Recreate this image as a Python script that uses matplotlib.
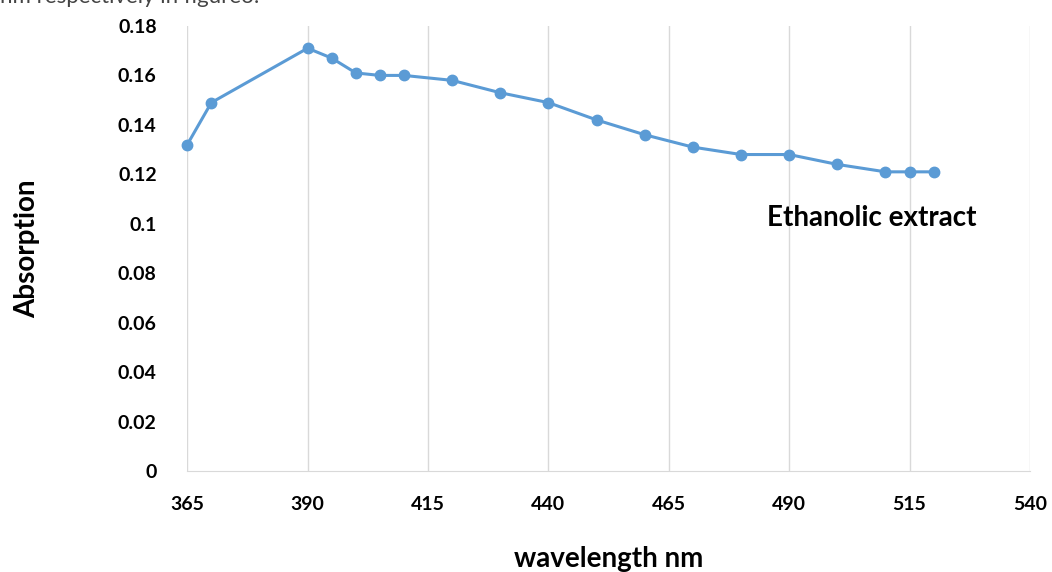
import matplotlib.pyplot as plt

# wavelength (nm) and absorption
wavelength = [365, 370, 390, 395, 400, 405, 410, 420, 430, 440, 450, 460, 470, 480, 490, 500, 510, 515, 520]
absorption = [0.132, 0.149, 0.171, 0.167, 0.161, 0.160, 0.160, 0.158, 0.153, 0.149, 0.142,
              0.136, 0.131, 0.128, 0.128, 0.124, 0.121, 0.121, 0.121]

x_ticks = [365, 390, 415, 440, 465, 490, 515, 540]
y_ticks = [0, 0.02, 0.04, 0.06, 0.08, 0.1, 0.12, 0.14, 0.16, 0.18]
y_labels = ["0", "0.02", "0.04", "0.06", "0.08", "0.1", "0.12", "0.14", "0.16", "0.18"]

plt.rcParams['font.family'] = ['Lato', 'DejaVu Sans']

fig = plt.figure(figsize=(10.52, 5.72), dpi=100)
ax = fig.add_axes([0.178, 0.1766, 0.801, 0.778])

ax.plot(wavelength, absorption, color="#5b9bd5", lw=2.2, marker="o", ms=7.5,
        zorder=3, clip_on=False)

ax.set_xlim(365, 540)
ax.set_ylim(0, 0.18)
ax.set_xticks(x_ticks)
ax.set_yticks(y_ticks)
ax.set_yticklabels(y_labels)
ax.tick_params(length=0, labelsize=14)
for lab in ax.get_xticklabels() + ax.get_yticklabels():
    lab.set_fontweight("bold")
ax.tick_params(axis="x", pad=18)
ax.tick_params(axis="y", pad=22)

ax.grid(axis="x", color="#d9d9d9", lw=1)
for s in ["left", "top", "right"]:
    ax.spines[s].set_visible(False)
ax.spines["bottom"].set_color("#d9d9d9")

ax.set_xlabel("wavelength nm", fontsize=20, fontweight="bold", labelpad=24)
ax.set_ylabel("Absorption", fontsize=20, fontweight="bold", labelpad=56)

ax.text(485.4, 0.1023, "Ethanolic extract", fontsize=20, fontweight="bold", va="center", ha="left")

# caption text cut off at the top of the image
fig.text(0.0, 1.006, "nm respectively in figure3.", fontsize=16, color="#444444", va="center")

fig.savefig("out.png", dpi=100)
